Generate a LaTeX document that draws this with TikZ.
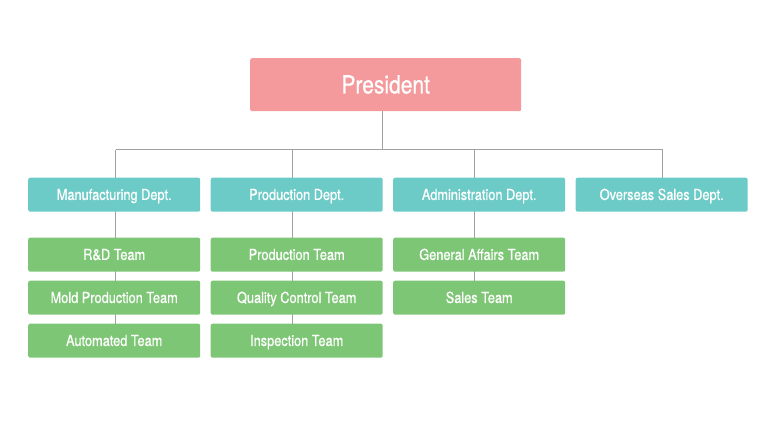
\documentclass[tikz,border=0pt]{standalone}
\usepackage{fontspec}
\setmainfont[FakeStretch=0.84,FakeBold=0.6]{TeX Gyre Heros}
\usetikzlibrary{backgrounds,calc}
\definecolor{pres}{HTML}{F4999C}
\definecolor{dept}{HTML}{6CCBC6}
\definecolor{team}{HTML}{7DC675}
\definecolor{conn}{HTML}{A0A0A0}
\begin{document}
\begin{tikzpicture}[x=1pt,y=-1pt,
  box/.style={rounded corners=2pt, text=white, inner sep=0pt, anchor=north west, text depth=0pt},
  presbox/.style={box, fill=pres, minimum width=271pt, minimum height=53pt, text height=17.5pt, font=\fontsize{25}{27}\selectfont},
  deptbox/.style={box, fill=dept, minimum width=172pt, minimum height=34pt, text height=10.5pt, font=\fontsize{15.2}{17}\selectfont},
  teambox/.style={box, fill=team, minimum width=172pt, minimum height=34pt, text height=10.5pt, font=\fontsize{15.2}{17}\selectfont},
  link/.style={draw=conn, line width=0.9pt}]
\useasboundingbox (0,0) rectangle (771,434);
\node[presbox] (P) at (250,58) {President};
\node[deptbox] (D1) at (28,177.5) {Manufacturing Dept.};
\node[deptbox] (D2) at (210.5,177.5) {Production Dept.};
\node[deptbox] (D3) at (393,177.5) {Administration Dept.};
\node[deptbox] (D4) at (575.5,177.5) {Overseas Sales Dept.};
\node[teambox] (T11) at (28,237.5) {R\&D Team};
\node[teambox] (T12) at (28,280.5) {Mold Production Team};
\node[teambox] (T13) at (28,323.5) {Automated Team};
\node[teambox] (T21) at (210.5,237.5) {Production Team};
\node[teambox] (T22) at (210.5,280.5) {Quality Control Team};
\node[teambox] (T23) at (210.5,323.5) {Inspection Team};
\node[teambox] (T31) at (393,237.5) {General Affairs Team};
\node[teambox] (T32) at (393,280.5) {Sales Team};
\coordinate (bus) at (0,149.5);
\coordinate (c0) at ($(P.south)+(-3,0)$);
\coordinate (c1) at ($(D1.north)+(1.5,0)$);
\coordinate (c2) at ($(D2.north)+(-4.5,0)$);
\coordinate (c3) at ($(D3.north)+(-4.5,0)$);
\coordinate (c4) at ($(D4.north)+(1,0)$);
\begin{scope}[on background layer]
\draw[link] (c0) -- (c0 |- bus);
\draw[link] (c1 |- bus) -- (c4 |- bus);
\draw[link] (c1 |- bus) -- (c1 |- T13.north);
\draw[link] (c2 |- bus) -- (c2 |- T23.north);
\draw[link] (c3 |- bus) -- (c3 |- T32.north);
\draw[link] (c4 |- bus) -- (c4);
\end{scope}
\end{tikzpicture}
\end{document}
